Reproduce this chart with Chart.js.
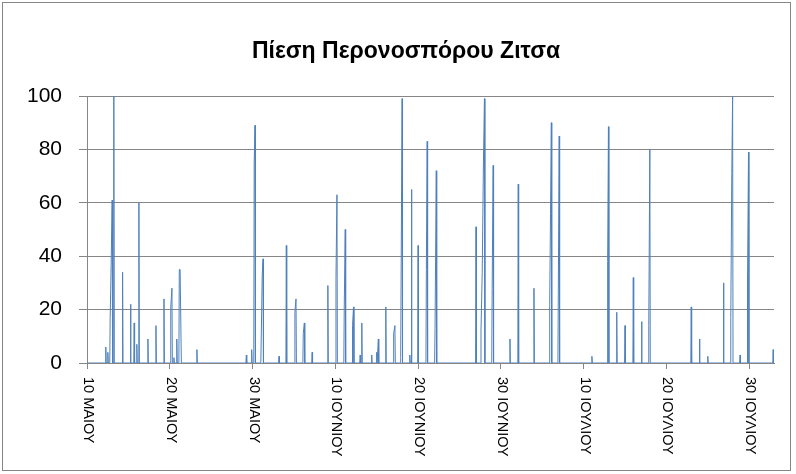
<!DOCTYPE html>
<html>
<head>
<meta charset="utf-8">
<script src="https://cdn.jsdelivr.net/npm/chart.js@4.4.1/dist/chart.umd.min.js"></script>
<style>
  html, body { margin: 0; padding: 0; background: #fff; }
  #wrap { position: relative; width: 796px; height: 474px; }
</style>
</head>
<body>
<div id="wrap"><canvas id="pressureChart"></canvas></div>
<script>
// Περονόσπορος - Ζίτσα, μέρες από 10 Μαΐου
const chartTitle = 'Πίεση Περονοσπόρου Ζιτσα';
const tickDays = [0, 10, 20, 30, 40, 50, 60, 70, 80];
const tickLabels = ['10 ΜΑΙΟΥ', '20 ΜΑΙΟΥ', '30 ΜΑΙΟΥ', '10 ΙΟΥΝΙΟΥ', '20 ΙΟΥΝΙΟΥ', '30 ΙΟΥΝΙΟΥ', '10 ΙΟΥΛΙΟΥ', '20 ΙΟΥΛΙΟΥ', '30 ΙΟΥΛΙΟΥ'];
const lastDay = 83;

// κορυφές (μέρα, τιμή)
const spikeDays = [
  2.27, 2.52, 2.8, 2.92, 3.04, 3.24, 4.3, 5.26, 5.7, 6.02, 6.27, 7.36, 8.33, 9.3,
  10.12, 10.26, 10.5, 10.85, 11.15, 11.25, 11.35, 13.28, 19.25, 19.9, 20.2, 20.3,
  21.05, 21.17, 21.27, 23.2, 24.08, 25.12, 25.25, 26.13, 26.26, 27.2, 29.1,
  30.08, 30.2, 31.08, 31.2, 32.08, 32.2, 33.0, 33.2, 34.4, 35.0, 35.2, 36.1,
  37.05, 37.2, 37.9, 38.0, 38.07, 39.0, 39.2, 40.0, 41.0, 41.1, 42.05, 42.2,
  47.0, 47.6, 47.75, 47.9, 48.02, 48.95, 49.07, 51.1, 52.1, 54.0,
  55.9, 56.0, 56.1, 56.9, 57.05, 61.0, 62.9, 63.0, 64.0, 65.0, 66.0, 67.0,
  67.87, 68.0, 73.0, 74.0, 75.0, 76.9, 77.78, 77.9, 78.0, 78.9, 79.8, 79.92, 82.9
];
const spikeValues = [
  6, 4, 17, 37, 61, 100, 34, 22, 15, 7, 60, 9, 14, 24,
  21, 28, 2, 9, 35, 35, 35, 5, 3, 5, 75, 89,
  9, 33, 39, 2.5, 44, 19, 24, 11, 15, 4, 29,
  32, 63, 21, 50, 14, 21, 3, 15, 3, 4, 9, 21,
  11, 14, 2, 60, 99, 3, 65, 44, 35, 83, 13, 72,
  51, 12, 34, 76, 99, 28, 74, 9, 67, 28,
  22, 56, 90, 3, 85, 2.5, 38, 88.5, 19, 14, 32, 15.5,
  14, 80, 21, 9, 2.5, 30, 17, 71, 100, 3, 30, 79, 5
];

const gridGray = '#868686';

// σειρά: μηδέν πριν/μετά από κάθε ομάδα κορυφών
function buildSeries() {
  const pts = [{ x: 0, y: 0 }];
  for (let i = 0; i < spikeDays.length; i++) {
    const d = spikeDays[i];
    const prev = i > 0 ? spikeDays[i - 1] : -10;
    const next = i < spikeDays.length - 1 ? spikeDays[i + 1] : 999;
    if (d - prev > 0.18) pts.push({ x: d - 0.05, y: 0 });
    pts.push({ x: d, y: spikeValues[i] });
    if (next - d > 0.18) pts.push({ x: d + 0.05, y: 0 });
  }
  pts.push({ x: lastDay, y: 0 });
  return pts;
}

// πλαίσιο και τίτλος
const framePlugin = {
  id: 'frame',
  beforeDraw(chart) {
    const ctx = chart.ctx;
    ctx.save();
    ctx.fillStyle = '#fff';
    ctx.fillRect(0, 0, chart.width, chart.height);
    ctx.strokeStyle = gridGray;
    ctx.lineWidth = 1;
    ctx.strokeRect(2.5, 2.5, 788, 468);
    ctx.fillStyle = '#000';
    ctx.font = 'bold 23px "Liberation Sans", Arial, sans-serif';
    ctx.textAlign = 'center';
    ctx.textBaseline = 'middle';
    ctx.fillText(chartTitle, 406, 52);
    ctx.restore();
  }
};

// ετικέτες άξονα x, περιστραμμένες δεξιόστροφα
const xLabelPlugin = {
  id: 'xLabels',
  afterDraw(chart) {
    const ctx = chart.ctx;
    const xs = chart.scales.x;
    ctx.save();
    ctx.fillStyle = '#000';
    ctx.font = '14.5px "Liberation Sans", Arial, sans-serif';
    ctx.textAlign = 'left';
    ctx.textBaseline = 'middle';
    tickDays.forEach((d, i) => {
      ctx.save();
      ctx.translate(xs.getPixelForValue(d) + 1, xs.top + 14);
      ctx.rotate(Math.PI / 2);
      ctx.fillText(tickLabels[i], 0, 0);
      ctx.restore();
    });
    ctx.restore();
  }
};

document.addEventListener('DOMContentLoaded', () => {
  const canvas = document.getElementById('pressureChart');
  new Chart(canvas, {
    type: 'line',
    data: {
      datasets: [{
        label: chartTitle,
        data: buildSeries(),
        borderColor: '#4F81BD',
        borderWidth: 1,
        pointRadius: 0,
        tension: 0,
        fill: false
      }]
    },
    options: {
      responsive: true,
      maintainAspectRatio: false,
      animation: false,
      layout: { padding: { left: 0, right: 22, top: 96, bottom: 0 } },
      plugins: {
        legend: { display: false },
        tooltip: { enabled: false },
        title: { display: false }
      },
      scales: {
        x: {
          type: 'linear',
          min: 0,
          max: lastDay,
          afterBuildTicks: (scale) => {
            scale.ticks = tickDays.map(v => ({ value: v }));
          },
          afterFit: (scale) => { scale.height = 111; },
          ticks: { display: false, stepSize: 10 },
          grid: { drawOnChartArea: false, drawTicks: true, tickLength: 6, color: gridGray },
          border: { display: true, color: gridGray }
        },
        y: {
          min: 0,
          max: 100,
          afterFit: (scale) => { scale.width = 87; },
          ticks: {
            stepSize: 20,
            color: '#000',
            padding: 17,
            font: { family: '"Liberation Sans", Arial, sans-serif', size: 21 }
          },
          grid: { color: gridGray, tickLength: 8 },
          border: { display: true, color: gridGray }
        }
      }
    },
    plugins: [framePlugin, xLabelPlugin]
  });
});
</script>
</body>
</html>
